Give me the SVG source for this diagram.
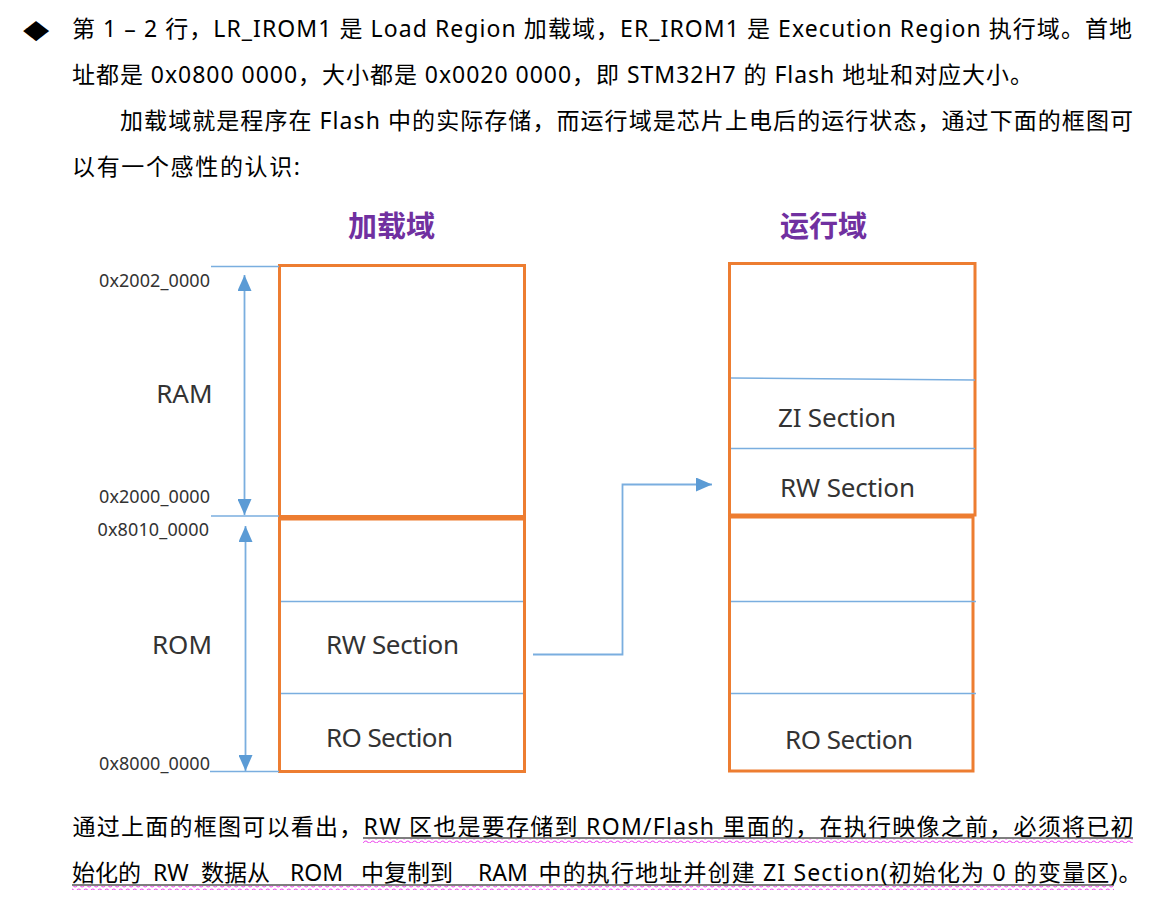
<svg xmlns="http://www.w3.org/2000/svg" width="1171" height="901" viewBox="0 0 1171 901">
  <style>
    .body { font-family: "Noto Sans", "Noto Sans CJK SC", sans-serif; font-size: 23px; fill: #000; }
    .bullet { font-family: "DejaVu Sans", sans-serif; font-size: 34px; fill: #000; }
    .title { font-family: "Noto Sans CJK SC", sans-serif; font-size: 29px; font-weight: bold; fill: #7030A0; }
    .lbl { font-family: "Noto Sans", "Liberation Sans", sans-serif; font-size: 26px; fill: #333; }
    .addr { font-family: "Noto Sans", "Liberation Sans", sans-serif; font-size: 18px; fill: #333; }
    .box { fill: #fff; stroke: #ED7D31; stroke-width: 3; }
    .div { stroke: #7AAEDF; stroke-width: 1.6; fill: none; }
    .conn { stroke: #7AAEDF; stroke-width: 1.8; fill: none; }
    .ul { stroke: #000; stroke-width: 1; }
  </style>
  <defs>
    <marker id="ah" viewBox="0 0 16 14" refX="16" refY="7" markerWidth="16" markerHeight="14" markerUnits="userSpaceOnUse" orient="auto-start-reverse">
      <path d="M0,0 L16,7 L0,14 z" fill="#5B9BD5"/>
    </marker>
    <pattern id="wave" x="0" y="0" width="7" height="4" patternUnits="userSpaceOnUse">
      <path d="M0,2 Q1.75,0 3.5,2 T7,2" fill="none" stroke="#EE55EE" stroke-width="1.1"/>
    </pattern>
  </defs>
  <rect width="1171" height="901" fill="#fff"/>

  <g id="text-top">
    <text class="bullet" x="23" y="44" transform="translate(0,4) scale(1,0.78)">◆</text>
    <text class="body" x="72" y="37" textLength="1060" lengthAdjust="spacing">第 1 – 2 行，LR_IROM1 是 Load Region 加载域，ER_IROM1 是 Execution Region 执行域。首地</text>
    <text class="body" x="72" y="83" textLength="961" lengthAdjust="spacing">址都是 0x0800 0000，大小都是 0x0020 0000，即 STM32H7 的 Flash 地址和对应大小。</text>
    <text class="body" x="120" y="129" textLength="1013" lengthAdjust="spacing">加载域就是程序在 Flash 中的实际存储，而运行域是芯片上电后的运行状态，通过下面的框图可</text>
    <text class="body" x="72" y="175" textLength="228" lengthAdjust="spacing">以有一个感性的认识:</text>
  </g>

  <g id="title-load"><text class="title" x="348" y="237">加载域</text></g>
  <g id="title-exec"><text class="title" x="780" y="237">运行域</text></g>

  <g id="load-region">
    <rect id="ram-box" class="box" x="279.5" y="265.5" width="245" height="251"/>
    <rect id="rom-box" class="box" x="279.5" y="519" width="245" height="252.5"/>
    <line class="div" x1="281" y1="601.5" x2="523" y2="601.5"/>
    <line class="div" x1="281" y1="693.5" x2="523" y2="693.5"/>
    <text class="lbl" x="326" y="654" textLength="133" lengthAdjust="spacing">RW Section</text>
    <text class="lbl" x="326" y="747" textLength="127" lengthAdjust="spacing">RO Section</text>
  </g>

  <g id="exec-region">
    <rect id="exec-upper" class="box" x="729.5" y="263.5" width="245.5" height="251.5"/>
    <rect id="exec-lower" class="box" x="729.5" y="517" width="243.5" height="254"/>
    <line class="div" x1="731" y1="378" x2="975" y2="380"/>
    <line class="div" x1="731" y1="448.5" x2="975" y2="448.5"/>
    <line class="div" x1="731" y1="601.5" x2="976" y2="601.5"/>
    <line class="div" x1="731" y1="693.5" x2="976" y2="693.5"/>
    <text class="lbl" x="778" y="427" textLength="118" lengthAdjust="spacing">ZI Section</text>
    <text class="lbl" x="780" y="497" textLength="135" lengthAdjust="spacing">RW Section</text>
    <text class="lbl" x="785" y="749" textLength="128" lengthAdjust="spacing">RO Section</text>
  </g>

  <g id="ram-scale">
    <line class="div" x1="211" y1="266.5" x2="279" y2="266.5"/>
    <line class="div" x1="211" y1="516" x2="279" y2="516"/>
    <text class="addr" x="99" y="287" textLength="111" lengthAdjust="spacing">0x2002_0000</text>
    <text class="addr" x="99" y="503" textLength="111" lengthAdjust="spacing">0x2000_0000</text>
    <text class="lbl" x="212.5" y="402.5" text-anchor="end">RAM</text>
  </g>

  <g id="rom-scale">
    <line class="div" x1="210" y1="771.5" x2="279" y2="771.5"/>
    <text class="addr" x="97.5" y="535.5" textLength="111.5" lengthAdjust="spacing">0x8010_0000</text>
    <text class="addr" x="99" y="769.5" textLength="111" lengthAdjust="spacing">0x8000_0000</text>
    <text class="lbl" x="212" y="653.5" text-anchor="end">ROM</text>
  </g>

  <g id="connectors">
    <line class="conn" x1="244.5" y1="275" x2="244.5" y2="515" marker-start="url(#ah)" marker-end="url(#ah)"/>
    <line class="conn" x1="245.5" y1="526" x2="245.5" y2="771" marker-start="url(#ah)" marker-end="url(#ah)"/>
    <path class="conn" d="M533,654.5 H622.5 V484.5 H712" marker-end="url(#ah)"/>
  </g>

  <g id="text-bottom">
    <text class="body" x="72.5" y="835" textLength="1061" lengthAdjust="spacing">通过上面的框图可以看出，RW 区也是要存储到 ROM/Flash 里面的，在执行映像之前，必须将已初</text>
    <line class="ul" x1="363" y1="838" x2="1133" y2="838"/>
    <rect x="363" y="839" width="770" height="4" fill="url(#wave)"/>
    <text class="body" y="881"><tspan x="72">始化的</tspan><tspan x="153">RW</tspan><tspan x="201">数据从</tspan><tspan x="290">ROM</tspan><tspan x="361">中复制到</tspan><tspan x="478">RAM</tspan><tspan x="538.5" textLength="603" lengthAdjust="spacing">中的执行地址并创建 ZI Section(初始化为 0 的变量区)。</tspan></text>
    <line class="ul" x1="72" y1="885" x2="1114" y2="885"/>
    <rect x="72" y="886" width="1042" height="4" fill="url(#wave)"/>
  </g>
</svg>
